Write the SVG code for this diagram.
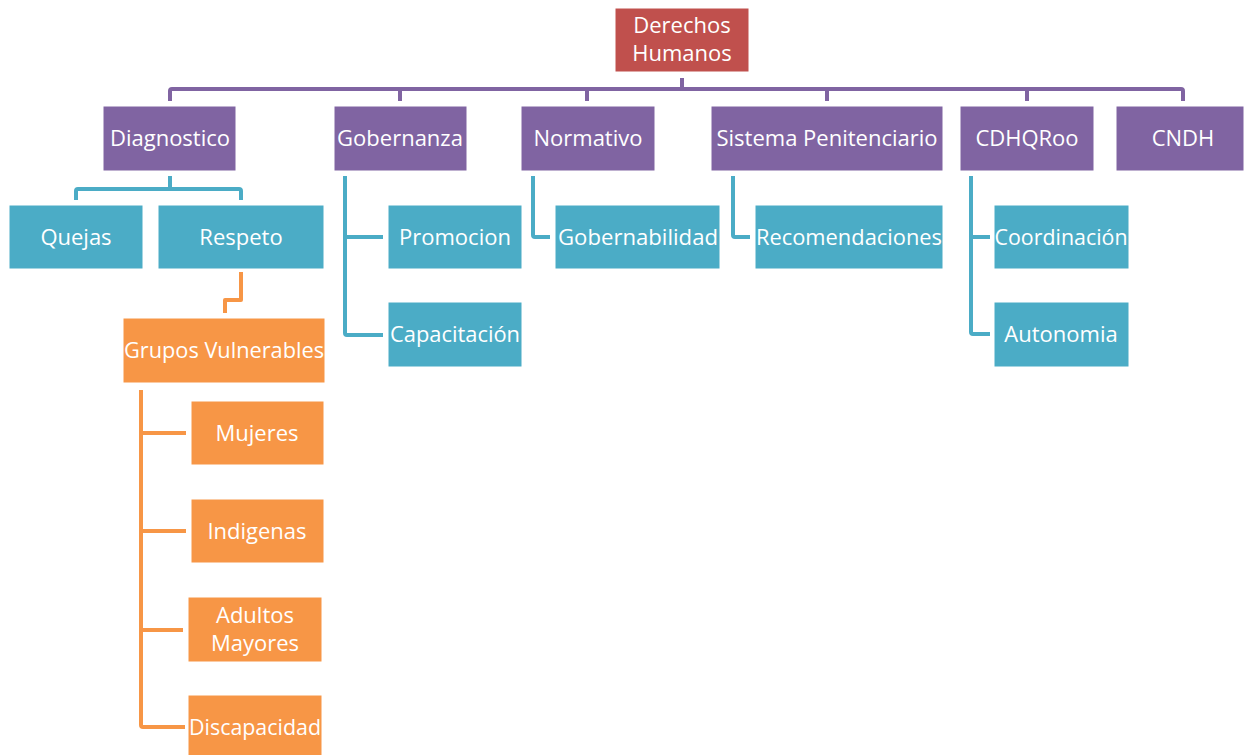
<svg xmlns="http://www.w3.org/2000/svg" width="1244" height="755" viewBox="0 0 1244 755">
  <style>
    .box { stroke: #ffffff; stroke-width: 1; }
    .red { fill: #C0504D; }
    .purple { fill: #8064A2; }
    .teal { fill: #4BACC6; }
    .orange { fill: #F79646; }
    .lbl { font-family: "Open Sans", "Noto Sans", sans-serif; font-size: 22px; fill: #ffffff; text-anchor: middle; }
    .ln { fill: none; stroke-width: 4; stroke-linejoin: round; stroke-linecap: butt; }
    .lp { stroke: #8064A2; }
    .lt { stroke: #4BACC6; }
    .lo { stroke: #F79646; }
  </style>
  <rect width="1244" height="755" fill="#ffffff"/>

  <!-- connectors -->
  <g id="connectors">
    <path class="ln lp" d="M682 78 V89 M170 101 V91 Q170 89 172 89 H1181 Q1183 89 1183 91 V101 M400 89 V101 M587 89 V101 M827 89 V101 M1027 89 V101"/>
    <path class="ln lt" d="M170 176 V189 M76 200 V191 Q76 189 78 189 H239 Q241 189 241 191 V200"/>
    <path class="ln lt" d="M345 176 V333 Q345 335 347 335 H383 M345 237 H383"/>
    <path class="ln lt" d="M533 176 V235 Q533 237 535 237 H550"/>
    <path class="ln lt" d="M733 176 V235 Q733 237 735 237 H750"/>
    <path class="ln lt" d="M971 176 V332 Q971 334 973 334 H990 M971 237 H990"/>
    <path class="ln lo" d="M241 272 V300 H225 V313"/>
    <path class="ln lo" d="M141 390 V725 Q141 727 143 727 H185 M141 433 H186 M141 531 H186 M141 630 H183"/>
  </g>

  <g id="derechos-humanos">
    <rect class="box red" x="615" y="8" width="134" height="64"/>
    <text class="lbl" x="682" y="33">Derechos</text>
    <text class="lbl" x="682" y="61">Humanos</text>
  </g>

  <g id="diagnostico">
    <rect class="box purple" x="103" y="106" width="133" height="65"/>
    <text class="lbl" x="170" y="146">Diagnostico</text>
  </g>
  <g id="gobernanza">
    <rect class="box purple" x="334" y="106" width="133" height="65"/>
    <text class="lbl" x="400" y="146">Gobernanza</text>
  </g>
  <g id="normativo">
    <rect class="box purple" x="521" y="106" width="134" height="65"/>
    <text class="lbl" x="588" y="146">Normativo</text>
  </g>
  <g id="sistema-penitenciario">
    <rect class="box purple" x="711" y="106" width="232" height="65"/>
    <text class="lbl" x="827" y="146">Sistema Penitenciario</text>
  </g>
  <g id="cdhqroo">
    <rect class="box purple" x="960" y="106" width="134" height="65"/>
    <text class="lbl" x="1027" y="146">CDHQRoo</text>
  </g>
  <g id="cndh">
    <rect class="box purple" x="1116" y="106" width="128" height="65"/>
    <text class="lbl" x="1183" y="146">CNDH</text>
  </g>

  <g id="quejas">
    <rect class="box teal" x="9" y="205" width="134" height="64"/>
    <text class="lbl" x="76" y="245">Quejas</text>
  </g>
  <g id="respeto">
    <rect class="box teal" x="158" y="205" width="166" height="64"/>
    <text class="lbl" x="241" y="245">Respeto</text>
  </g>
  <g id="promocion">
    <rect class="box teal" x="388" y="205" width="134" height="64"/>
    <text class="lbl" x="455" y="245">Promocion</text>
  </g>
  <g id="capacitacion">
    <rect class="box teal" x="388" y="302" width="134" height="65"/>
    <text class="lbl" x="455" y="342" textLength="130" lengthAdjust="spacingAndGlyphs">Capacitación</text>
  </g>
  <g id="gobernabilidad">
    <rect class="box teal" x="555" y="205" width="165" height="64"/>
    <text class="lbl" x="638" y="245" textLength="160" lengthAdjust="spacingAndGlyphs">Gobernabilidad</text>
  </g>
  <g id="recomendaciones">
    <rect class="box teal" x="755" y="205" width="188" height="64"/>
    <text class="lbl" x="849" y="245" textLength="186" lengthAdjust="spacingAndGlyphs">Recomendaciones</text>
  </g>
  <g id="coordinacion">
    <rect class="box teal" x="994" y="205" width="135" height="64"/>
    <text class="lbl" x="1061" y="245" textLength="133" lengthAdjust="spacingAndGlyphs">Coordinación</text>
  </g>
  <g id="autonomia">
    <rect class="box teal" x="994" y="302" width="135" height="65"/>
    <text class="lbl" x="1061" y="342">Autonomia</text>
  </g>

  <g id="grupos-vulnerables">
    <rect class="box orange" x="123" y="318" width="202" height="65"/>
    <text class="lbl" x="224" y="358" textLength="200" lengthAdjust="spacingAndGlyphs">Grupos Vulnerables</text>
  </g>
  <g id="mujeres">
    <rect class="box orange" x="191" y="401" width="133" height="64"/>
    <text class="lbl" x="257" y="441">Mujeres</text>
  </g>
  <g id="indigenas">
    <rect class="box orange" x="191" y="499" width="133" height="64"/>
    <text class="lbl" x="257" y="539">Indigenas</text>
  </g>
  <g id="adultos-mayores">
    <rect class="box orange" x="188" y="597" width="134" height="65"/>
    <text class="lbl" x="255" y="623">Adultos</text>
    <text class="lbl" x="255" y="651">Mayores</text>
  </g>
  <g id="discapacidad">
    <rect class="box orange" x="188" y="695" width="134" height="62"/>
    <text class="lbl" x="255" y="735" textLength="132" lengthAdjust="spacingAndGlyphs">Discapacidad</text>
  </g>
</svg>
